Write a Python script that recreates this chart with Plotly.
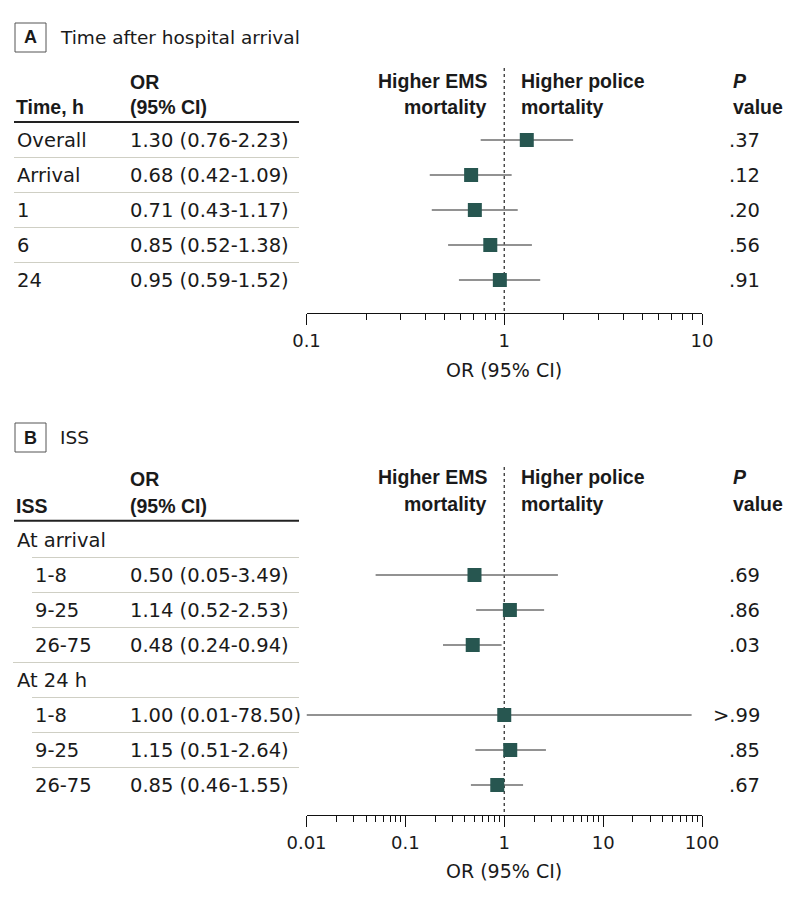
import plotly.graph_objects as go

# page is 794x899; the HTML body has an 8px margin, so the figure is made
# 16px smaller and every page-pixel position is shifted by 8px.
PAGE_W, PAGE_H = 794, 899
OFF = 8
W, H = PAGE_W - 2 * OFF, PAGE_H - 2 * OFF

# ---------------- Data ----------------
# Panel A: time after hospital arrival
a_labels = ["Overall", "Arrival", "1", "6", "24"]
a_or = [1.30, 0.68, 0.71, 0.85, 0.95]
a_lo = [0.76, 0.42, 0.43, 0.52, 0.59]
a_hi = [2.23, 1.09, 1.17, 1.38, 1.52]
a_p = [".37", ".12", ".20", ".56", ".91"]

# Panel B: ISS
b_labels = ["At arrival", "1-8", "9-25", "26-75", "At 24 h", "1-8", "9-25", "26-75"]
b_indent = [False, True, True, True, False, True, True, True]
b_or = [None, 0.50, 1.14, 0.48, None, 1.00, 1.15, 0.85]
b_lo = [None, 0.05, 0.52, 0.24, None, 0.01, 0.51, 0.46]
b_hi = [None, 3.49, 2.53, 0.94, None, 78.50, 2.64, 1.55]
b_p = ["", ".69", ".86", ".03", "", ">.99", ".85", ".67"]

# ---------------- Styling ----------------
REG = "DejaVu Sans"
BOLD = "Liberation Sans"
TXT = "#1a1a1a"
MARK = "#275650"
BAR = "#6e6e6e"
SEP = "#cfcfc4"
BODY = 19.5


def py(px):
    return 1 - (px - OFF) / H


def pxx(px):
    return (px - OFF) / W


ROW = 35.0
A_ROW0, A_TOP, A_AXIS = 140, 68, 313
B_ROW0, B_TOP, B_AXIS = 540, 467, 815
X0, X1 = 306.5, 702

fig = go.Figure()

# Panel A
a_y = list(range(len(a_labels)))
fig.add_trace(go.Scatter(
    x=[1, 1], y=[(A_TOP - A_ROW0) / ROW, (A_AXIS - A_ROW0) / ROW],
    mode="lines", line=dict(color="#333333", width=1.3, dash="dot"),
    xaxis="x", yaxis="y", hoverinfo="skip", showlegend=False, cliponaxis=False))
fig.add_trace(go.Scatter(
    x=a_or, y=a_y, mode="markers",
    marker=dict(symbol="square", size=14, color=MARK, line=dict(width=0)),
    error_x=dict(type="data", symmetric=False,
                 array=[h - o for o, h in zip(a_or, a_hi)],
                 arrayminus=[o - l for o, l in zip(a_or, a_lo)],
                 color=BAR, thickness=1.6, width=0),
    xaxis="x", yaxis="y", hoverinfo="skip", showlegend=False))

# Panel B
b_idx = [i for i, v in enumerate(b_or) if v is not None]
fig.add_trace(go.Scatter(
    x=[1, 1], y=[(B_TOP - B_ROW0) / ROW, (B_AXIS - B_ROW0) / ROW],
    mode="lines", line=dict(color="#333333", width=1.3, dash="dot"),
    xaxis="x2", yaxis="y2", hoverinfo="skip", showlegend=False, cliponaxis=False))
fig.add_trace(go.Scatter(
    x=[b_or[i] for i in b_idx], y=b_idx, mode="markers",
    marker=dict(symbol="square", size=14, color=MARK, line=dict(width=0)),
    error_x=dict(type="data", symmetric=False,
                 array=[b_hi[i] - b_or[i] for i in b_idx],
                 arrayminus=[b_or[i] - b_lo[i] for i in b_idx],
                 color=BAR, thickness=1.6, width=0),
    xaxis="x2", yaxis="y2", hoverinfo="skip", showlegend=False))

ann = []
shapes = []


def text(x, y, s, size=BODY, family=REG, anchor="left", xref="paper", yref="paper",
         weight="normal", style="normal"):
    ann.append(dict(x=x, y=y, xref=xref, yref=yref, text=s, showarrow=False,
                    xanchor=anchor, yanchor="middle",
                    font=dict(family=family, size=size, color=TXT, weight=weight, style=style)))


def panel_header(letter, title, y_title, y_or, y_ci, y_line, y_h1, y_h2, first_col):
    shapes.append(dict(type="rect", xref="paper", yref="paper",
                       x0=pxx(15), x1=pxx(46), y0=py(y_title - 14.5), y1=py(y_title + 14.5),
                       line=dict(color="#555555", width=1), fillcolor="white"))
    text(pxx(30.5), py(y_title), letter, size=18, family=BOLD, anchor="center", weight="bold")
    text(pxx(58), py(y_title), title, size=18.5)
    text(pxx(128), py(y_or), "OR", size=19.5, family=BOLD, weight="bold")
    text(pxx(128), py(y_ci), "(95% CI)", size=19.5, family=BOLD, weight="bold")
    text(pxx(14), py(y_ci), first_col, size=19.5, family=BOLD, weight="bold")
    shapes.append(dict(type="line", xref="paper", yref="paper",
                       x0=pxx(14), x1=pxx(299), y0=py(y_line), y1=py(y_line),
                       line=dict(color="#222222", width=2)))
    text(pxx(489), py(y_h1), "Higher EMS", size=19.5, family=BOLD, anchor="right", weight="bold")
    text(pxx(489), py(y_h2), "mortality", size=19.5, family=BOLD, anchor="right", weight="bold")
    text(pxx(519), py(y_h1), "Higher police", size=19.5, family=BOLD, weight="bold")
    text(pxx(519), py(y_h2), "mortality", size=19.5, family=BOLD, weight="bold")
    text(pxx(731), py(y_h1), "P", size=19.5, family=BOLD, weight="bold", style="italic")
    text(pxx(731), py(y_h2), "value", size=19.5, family=BOLD, weight="bold")


panel_header("A", "Time after hospital arrival", 37.5, 82, 106.5, 122, 81, 107, "Time, h")
panel_header("B", "ISS", 437.5, 478.5, 505.5, 520.7, 477, 504, "ISS")

for i, lab in enumerate(a_labels):
    text(pxx(15), i, lab, yref="y")
    text(pxx(128), i, f"{a_or[i]:.2f} ({a_lo[i]:.2f}-{a_hi[i]:.2f})", yref="y")
    text(pxx(762), i, a_p[i], yref="y", anchor="right")
    if i < len(a_labels) - 1:
        shapes.append(dict(type="line", xref="paper", yref="y", x0=pxx(14), x1=pxx(299),
                           y0=i + 0.5, y1=i + 0.5, line=dict(color=SEP, width=1)))

for i, lab in enumerate(b_labels):
    text(pxx(33 if b_indent[i] else 15), i, lab, yref="y2")
    if b_or[i] is not None:
        text(pxx(128), i, f"{b_or[i]:.2f} ({b_lo[i]:.2f}-{b_hi[i]:.2f})", yref="y2")
        text(pxx(762), i, b_p[i], yref="y2", anchor="right")
    if i < len(b_labels) - 1:
        x0 = 32 if b_indent[i + 1] else 13
        shapes.append(dict(type="line", xref="paper", yref="y2", x0=pxx(x0), x1=pxx(299),
                           y0=i + 0.5, y1=i + 0.5, line=dict(color=SEP, width=1)))

text(pxx((X0 + X1) / 2), py(370), "OR (95% CI)", size=19, anchor="center")
text(pxx((X0 + X1) / 2), py(871), "OR (95% CI)", size=19, anchor="center")

xcommon = dict(type="log", showgrid=False, zeroline=False, showline=True, automargin=False,
               linecolor="#111111", linewidth=1, ticks="outside", ticklen=11,
               tickwidth=1, tickcolor="#111111", tickmode="linear", tick0=0, dtick=1,
               tickfont=dict(family=REG, size=18, color=TXT),
               minor=dict(ticks="outside", ticklen=6, tickwidth=1, tickcolor="#111111",
                          dtick="D1", showgrid=False),
               fixedrange=True, domain=[pxx(X0), pxx(X1)])
ycommon = dict(visible=False, showgrid=False, zeroline=False, fixedrange=True, automargin=False)

fig.update_layout(
    width=W, height=H, autosize=False,
    margin=dict(l=0, r=0, t=0, b=0, pad=0, autoexpand=False),
    paper_bgcolor="white", plot_bgcolor="rgba(0,0,0,0)",
    xaxis=dict(**xcommon, range=[-1, 1], anchor="y"),
    yaxis=dict(**ycommon, domain=[py(A_AXIS), py(A_TOP)],
               range=[(A_AXIS - A_ROW0) / ROW, (A_TOP - A_ROW0) / ROW]),
    xaxis2=dict(**xcommon, range=[-2, 2], anchor="y2"),
    yaxis2=dict(**ycommon, domain=[py(B_AXIS), py(B_TOP)],
                range=[(B_AXIS - B_ROW0) / ROW, (B_TOP - B_ROW0) / ROW]),
    annotations=ann, shapes=shapes, showlegend=False,
)

fig.write_html("out.html")
